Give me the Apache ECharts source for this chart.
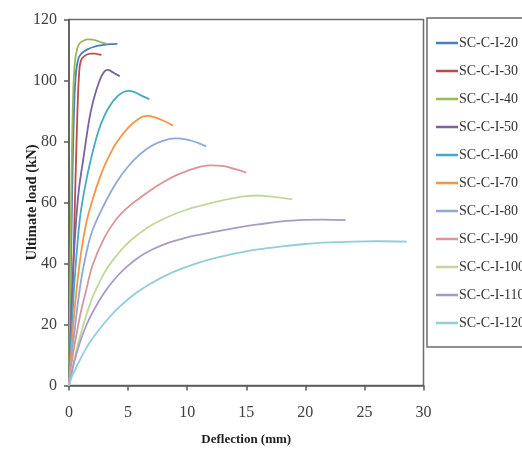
<!DOCTYPE html>
<html>
<head>
<meta charset="utf-8">
<script src="https://cdn.jsdelivr.net/npm/echarts@6/dist/echarts.min.js"></script>
<style>
  html, body { margin: 0; padding: 0; background: #fff; }
  #chart { width: 522px; height: 453px; }
</style>
</head>
<body>
<div id="chart"></div>
<script>
// Load–deflection curves, [deflection (mm), load (kN)]
const SC20 = [[0,0],[0.15,35],[0.3,70],[0.45,93],[0.6,103],[0.8,107.2],[1.0,108.6],[1.3,109.6],[1.6,110.3],[2.0,110.9],[2.5,111.4],[3.0,111.7],[3.5,111.9],[4.1,112]];
const SC30 = [[0,0],[0.3,30],[0.5,60],[0.7,88],[0.85,102],[1.0,106.5],[1.3,108],[1.8,108.8],[2.2,108.8],[2.5,108.6],[2.75,108.4]];
const SC40 = [[0,0],[0.1,35],[0.2,65],[0.35,95],[0.5,106],[0.7,110.5],[0.9,112.2],[1.2,113],[1.6,113.5],[2.0,113.4],[2.4,113],[2.8,112.4],[3.2,112]];
const SC50 = [[0,0],[0.2,25],[0.4,42],[0.6,54],[0.8,63],[1.0,69],[1.2,74],[1.5,82],[1.75,88],[2.0,92.5],[2.25,96],[2.5,99],[2.8,101.8],[3.1,103.3],[3.3,103.5],[3.6,102.9],[4.0,102],[4.3,101.4]];
const SC60 = [[0,0],[0.25,20],[0.5,36],[0.75,48],[1.0,57],[1.5,68],[2.0,76.5],[2.5,83.5],[3.0,88.5],[3.5,92],[4.0,94.5],[4.5,96],[5.0,96.6],[5.5,96.3],[6.0,95.3],[6.8,93.9]];
const SC70 = [[0,0],[0.25,14],[0.5,26],[1.0,43],[1.5,54],[2.0,61],[2.5,67],[3.0,72],[3.5,76],[4.0,79.5],[5.0,84.5],[6.0,87.7],[6.6,88.4],[7.2,88],[8.0,86.8],[8.8,85.2]];
const SC80 = [[0,0],[0.25,10],[0.5,19],[1.0,34],[1.5,44],[2.0,51],[3.0,59.5],[4.0,66.5],[5.0,71.8],[6.0,75.8],[7.0,78.6],[8.0,80.3],[9.0,81],[10.0,80.6],[11.0,79.4],[11.6,78.4]];
const SC90 = [[0,0],[0.25,8],[0.5,14],[1.0,24],[1.5,32],[2.0,39.5],[3.0,48.5],[4.0,54.5],[5.0,58.5],[6.0,61.5],[7.0,64.3],[8.0,66.7],[9.0,68.8],[10.0,70.4],[11.0,71.6],[12.0,72.2],[13.0,72],[14.0,71],[15.0,69.8]];
const SC100 = [[0,0],[0.25,5],[0.5,9.5],[1.0,17],[1.5,23.5],[2.0,29],[3.0,37],[4.0,42.5],[5.0,46.8],[6.0,50],[7.0,52.6],[8.0,54.6],[9.0,56.3],[10.0,57.7],[11.0,58.8],[12.0,59.8],[13.0,60.7],[14.0,61.5],[15.0,62.1],[16.0,62.3],[17.0,62],[18.0,61.5],[18.9,61]];
const SC110 = [[0,0],[0.25,4.5],[0.5,8.5],[1.0,15],[1.5,20],[2.0,24],[3.0,30.5],[4.0,35.5],[5.0,39.3],[6.0,42.3],[7.0,44.5],[8.0,46.2],[9.0,47.5],[10.0,48.6],[11.0,49.4],[12.5,50.5],[14.0,51.6],[16.0,52.8],[18.0,53.8],[20.0,54.3],[21.5,54.4],[23.4,54.2]];
const SC120 = [[0,0],[0.25,3],[0.5,5],[1.0,9],[1.5,12.5],[2.0,15.5],[3.0,20.5],[4.0,24.8],[5.0,28.3],[6.0,31.2],[7.0,33.6],[8.0,35.7],[9.0,37.5],[10.0,39],[11.0,40.3],[12.5,41.9],[14.0,43.2],[16.0,44.6],[18.0,45.6],[20.0,46.4],[22.0,46.9],[24.0,47.2],[26.0,47.3],[28.6,47.2]];

const names = ['SC-C-I-20','SC-C-I-30','SC-C-I-40','SC-C-I-50','SC-C-I-60','SC-C-I-70','SC-C-I-80','SC-C-I-90','SC-C-I-100','SC-C-I-110','SC-C-I-120'];
const curves = [SC20, SC30, SC40, SC50, SC60, SC70, SC80, SC90, SC100, SC110, SC120];
const colors = ['#4A7EBB','#BE4B48','#98B954','#7D60A0','#46AAC5','#F69545','#8EA8D8','#D9959A','#C4D79B','#A99BC2','#92CDDC'];

const xTicks = [0, 5, 10, 15, 20, 25, 30];
const yTicks = [0, 20, 40, 60, 80, 100, 120];

const serif = '"Liberation Serif", "Times New Roman", serif';
const textColor = '#404040';

const chart = echarts.init(document.getElementById('chart'), null, { renderer: 'canvas' });

chart.setOption({
  backgroundColor: '#ffffff',
  animation: false,
  color: colors,
  grid: {
    left: 69, right: 98.5, top: 19.5, bottom: 67.5,
    show: true, borderColor: '#6b6b6b', borderWidth: 1.5, backgroundColor: 'transparent'
  },
  legend: {
    orient: 'vertical',
    left: 427, top: 18,
    data: names,
    icon: 'rect',
    itemWidth: 22, itemHeight: 2.5,
    itemGap: 12,
    padding: [17, 30, 16, 9],
    borderColor: '#6b6b6b', borderWidth: 1.5,
    textStyle: { fontFamily: serif, fontSize: 14, color: '#333', padding: [0, 0, 0, -4], lineHeight: 16 }
  },
  xAxis: {
    type: 'value', min: xTicks[0], max: xTicks[xTicks.length - 1], interval: 5,
    name: 'Deflection (mm)', nameLocation: 'middle', nameGap: 48,
    nameTextStyle: { fontFamily: serif, fontSize: 13, fontWeight: 'bold', color: '#222' },
    axisLine: { lineStyle: { color: '#595959', width: 1.5 } },
    axisTick: { inside: false, length: 5, lineStyle: { color: '#595959', width: 1.5 } },
    axisLabel: { fontFamily: serif, fontSize: 16, color: textColor, margin: 19 },
    splitLine: { show: false }
  },
  yAxis: {
    type: 'value', min: yTicks[0], max: yTicks[yTicks.length - 1], interval: 20,
    name: 'Ultimate load (kN)', nameLocation: 'middle', nameGap: 29,
    nameMoveOverlap: false,
    nameTextStyle: { fontFamily: serif, fontSize: 14.5, fontWeight: 'bold', color: '#222' },
    axisLine: { show: true, lineStyle: { color: '#595959', width: 1.5 } },
    axisTick: { show: true, inside: false, length: 5, lineStyle: { color: '#595959', width: 1.5 } },
    axisLabel: { fontFamily: serif, fontSize: 16, color: textColor, margin: 12 },
    splitLine: { show: false }
  },
  series: curves.map((data, i) => ({
    name: names[i],
    type: 'line',
    data: data,
    smooth: 0.4,
    showSymbol: false,
    symbol: 'none',
    lineStyle: { width: 1.8, color: colors[i] },
    itemStyle: { color: colors[i] },
    emphasis: { disabled: true }
  }))
});
</script>
</body>
</html>
